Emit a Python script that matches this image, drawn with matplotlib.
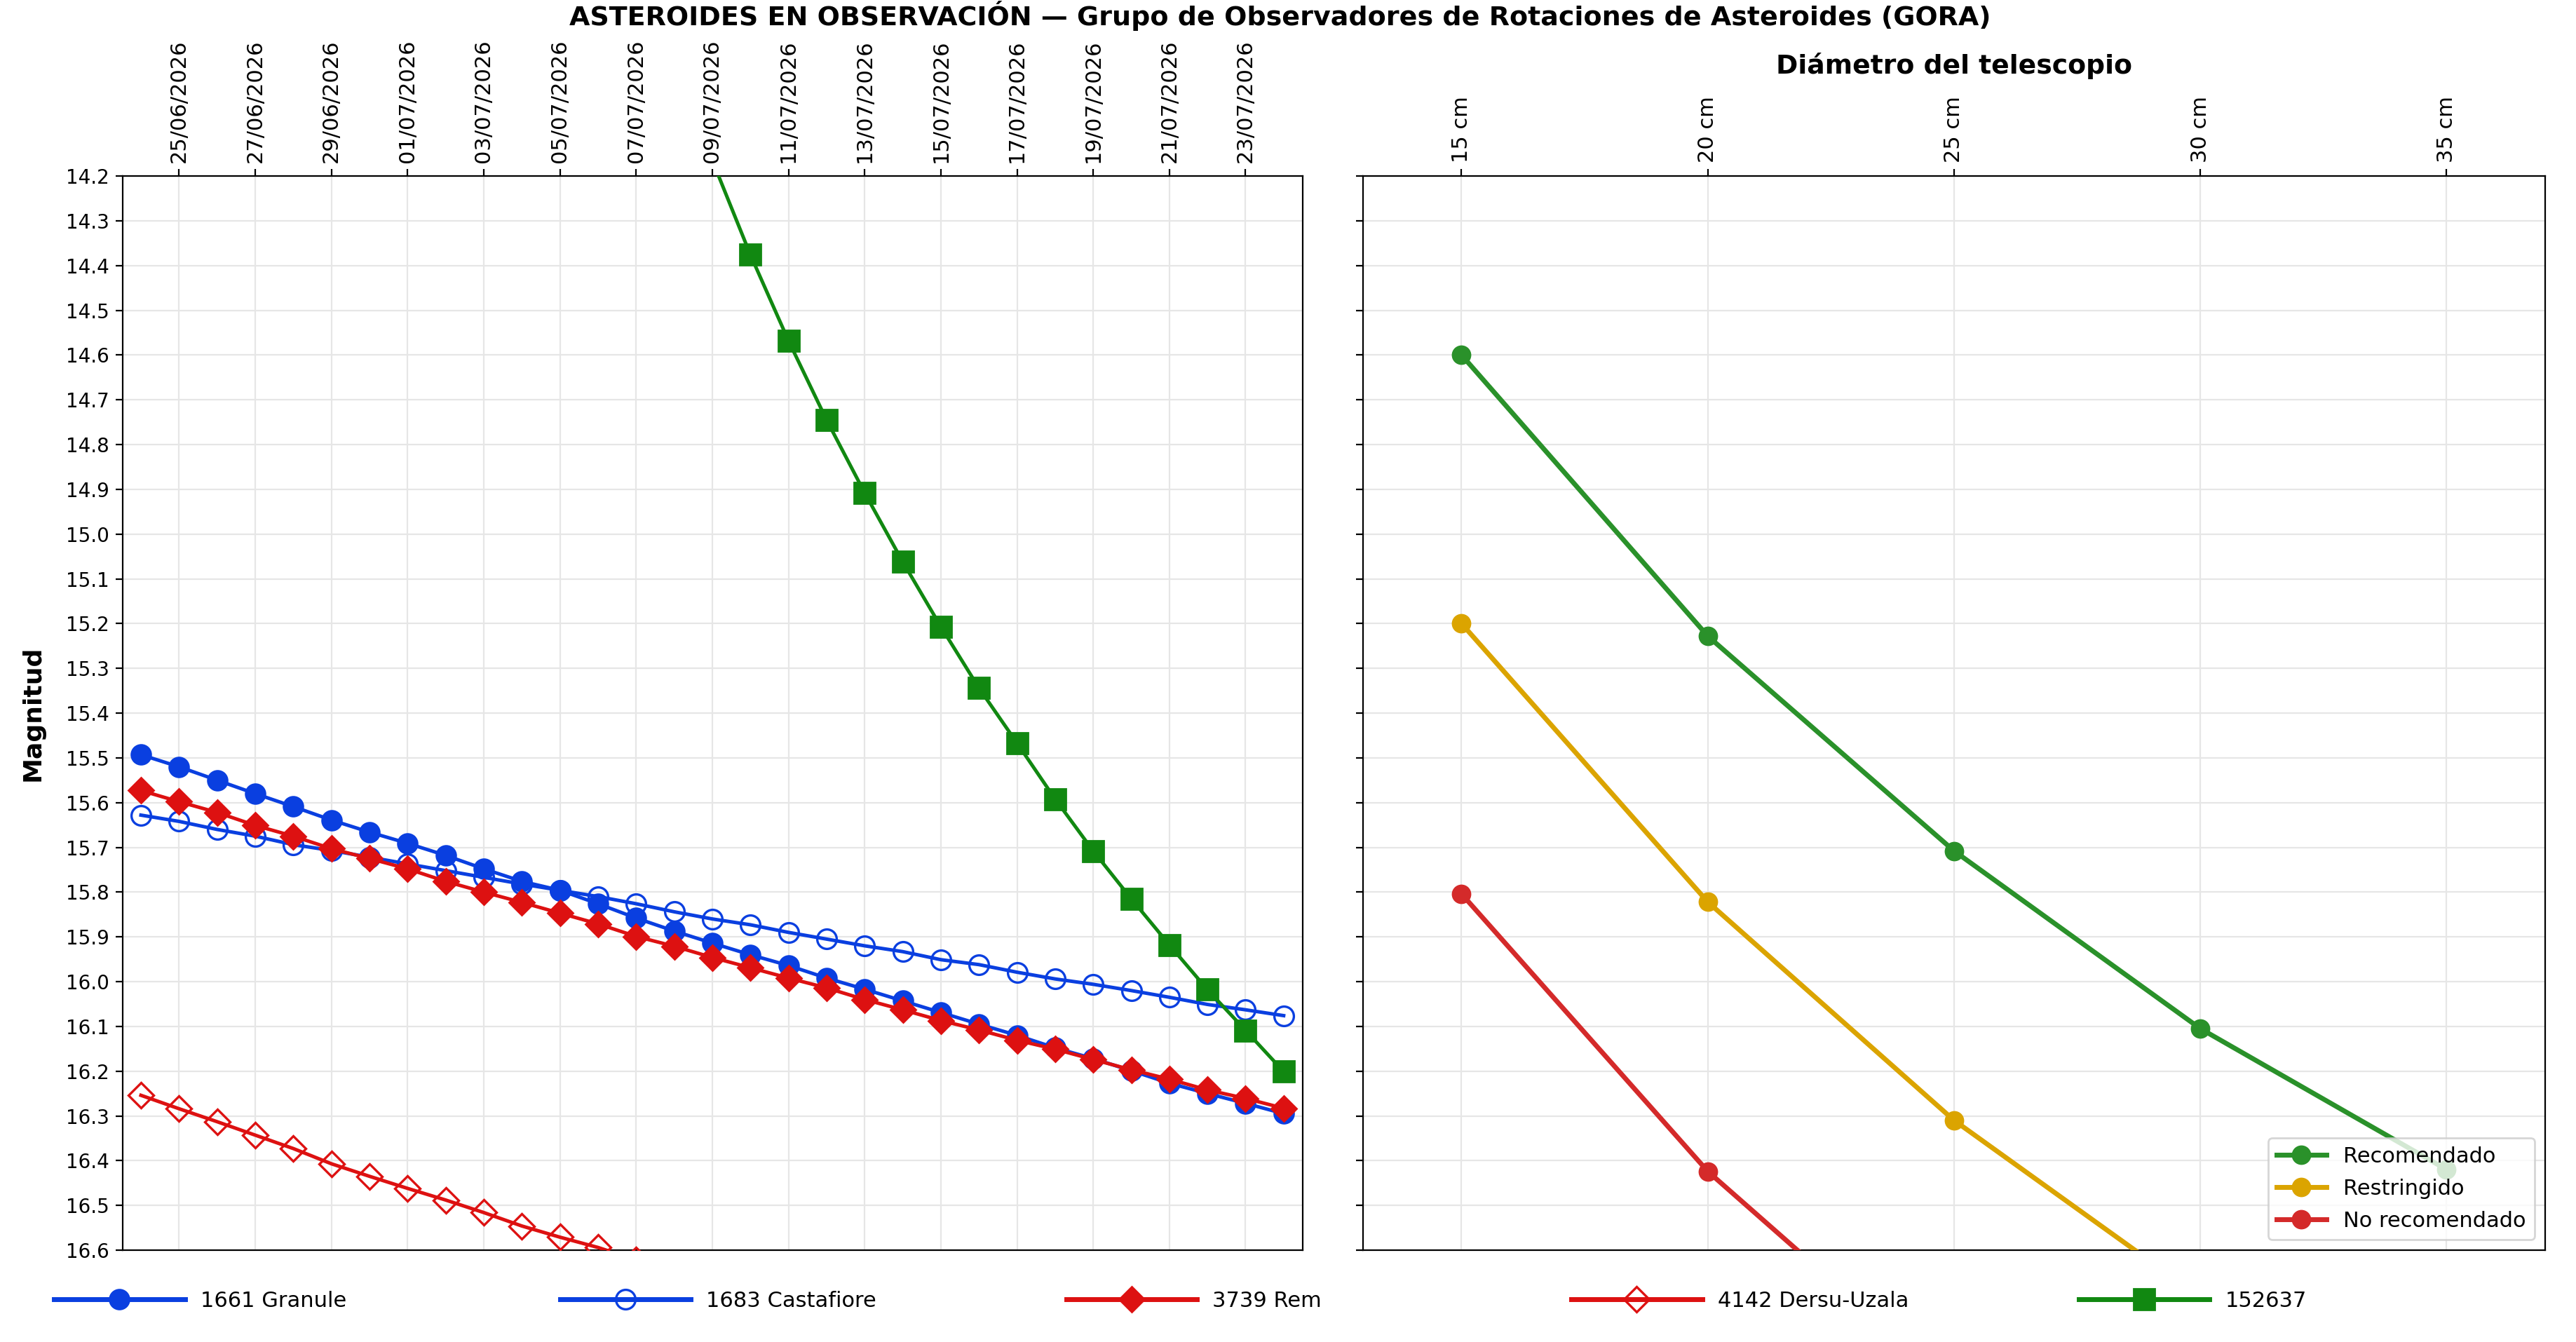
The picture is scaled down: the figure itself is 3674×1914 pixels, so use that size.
import numpy as np
import pandas as pd
import matplotlib
matplotlib.use("Agg")
import matplotlib.pyplot as plt
import matplotlib.dates as mdates
from matplotlib.lines import Line2D

# ---------------- data ----------------
dates = pd.date_range("2026-06-24", "2026-07-24", freq="D")

granule = [15.493, 15.520, 15.550, 15.580, 15.609, 15.639, 15.666, 15.691, 15.718, 15.748,
           15.776, 15.796, 15.826, 15.858, 15.887, 15.914, 15.940, 15.964, 15.992, 16.017,
           16.043, 16.069, 16.095, 16.120, 16.148, 16.172, 16.199, 16.227, 16.250, 16.272, 16.295]
castafiore = [15.628, 15.642, 15.660, 15.675, 15.694, 15.707, 15.722, 15.737, 15.752, 15.767,
              15.782, 15.796, 15.810, 15.826, 15.844, 15.860, 15.873, 15.890, 15.905, 15.920,
              15.933, 15.951, 15.962, 15.979, 15.994, 16.006, 16.020, 16.035, 16.051, 16.063, 16.076]
rem = [15.573, 15.598, 15.622, 15.651, 15.675, 15.703, 15.725, 15.748, 15.776, 15.800,
       15.823, 15.847, 15.871, 15.899, 15.921, 15.946, 15.969, 15.992, 16.014, 16.040,
       16.063, 16.087, 16.108, 16.131, 16.151, 16.174, 16.197, 16.218, 16.242, 16.261, 16.283]
dersu = [16.254, 16.284, 16.313, 16.343, 16.373, 16.407, 16.435, 16.462, 16.488, 16.516,
         16.546, 16.571, 16.594, 16.622, 16.649, 16.676, 16.702, 16.728, 16.754, 16.779,
         16.804, 16.828, 16.852, 16.876, 16.899, 16.922, 16.944, 16.966, 16.988, 17.009, 17.030]
ast152637 = [None] * 15 + [14.165, 14.376, 14.568, 14.745, 14.908, 15.062, 15.207, 15.344,
                           15.467, 15.592, 15.708, 15.815, 15.918, 16.018, 16.109, 16.201]

diam_cm = [15, 20, 25, 30, 35]
diam_labels = ["15 cm", "20 cm", "25 cm", "30 cm", "35 cm"]
recomendado = [14.600, 15.228, 15.708, 16.105, 16.420]
restringido = [15.200, 15.822, 16.310, 16.705, 17.020]
no_recomendado = [15.804, 16.424, 16.908, 17.305, 17.620]

title = "ASTEROIDES EN OBSERVACIÓN — Grupo de Observadores de Rotaciones de Asteroides (GORA)"

# ---------------- figure ----------------
fig = plt.figure(figsize=(18.37, 9.57), dpi=200)
ax1 = fig.add_axes([0.04763, 0.06844, 0.45808, 0.80042])
ax2 = fig.add_axes([0.52912, 0.06844, 0.45890, 0.80042])

BLUE = "#0a3fe0"
RED = "#dd1111"
GREEN = "#118811"

series = [
    ("1661 Granule", granule, dict(color=BLUE, marker="o", ms=10, mfc=BLUE)),
    ("1683 Castafiore", castafiore, dict(color=BLUE, marker="o", ms=10, mfc="none", mew=1.2)),
    ("3739 Rem", rem, dict(color=RED, marker="D", ms=9, mfc=RED)),
    ("4142 Dersu-Uzala", dersu, dict(color=RED, marker="D", ms=9, mfc="none", mew=1.2)),
    ("152637", ast152637, dict(color=GREEN, marker="s", ms=11, mfc=GREEN)),
]

for name, vals, st in series:
    y = np.array([np.nan if v is None else v for v in vals], dtype=float)
    ax1.plot(dates, y, lw=1.8, zorder=3, **st)

yt = np.round(np.arange(14.2, 16.61, 0.1), 1)
for ax in (ax1, ax2):
    ax.set_ylim(16.6, 14.2)
    ax.set_yticks(yt)
    ax.grid(True, color="#e6e6e6", lw=0.8, zorder=0)
    ax.set_axisbelow(True)
    ax.xaxis.tick_top()
    ax.tick_params(axis="x", labelrotation=90, labelsize=11, bottom=False, top=True)
ax1.set_yticklabels([f"{v:.1f}" for v in yt])
ax1.tick_params(axis="y", labelsize=10)
ax2.tick_params(axis="y", labelleft=False)

ax1.set_xlim(dates[0] - pd.Timedelta(hours=11.5), dates[-1] + pd.Timedelta(hours=12))
ax1.xaxis.set_major_locator(mdates.DayLocator(bymonthday=range(1, 32, 2)))
ax1.xaxis.set_major_formatter(mdates.DateFormatter("%d/%m/%Y"))
ax1.set_ylabel("Magnitud", fontsize=13, fontweight="bold")
ax1.yaxis.set_label_coords(-0.066, 0.5)

# right panel
R_GREEN = "#2a912a"
R_GOLD = "#dba400"
R_RED = "#d42a2a"
for name, vals, c in [("Recomendado", recomendado, R_GREEN),
                      ("Restringido", restringido, R_GOLD),
                      ("No recomendado", no_recomendado, R_RED)]:
    ax2.plot(diam_cm, vals, color=c, lw=2.5, marker="o", ms=9, label=name, zorder=3)
ax2.set_xlim(13, 37)
ax2.set_xticks(diam_cm)
ax2.set_xticklabels(diam_labels)
ax2.legend(loc="lower right", fontsize=11, handlelength=2.3, labelspacing=0.55)

fig.text(0.497, 0.988, title, ha="center", va="center", fontsize=13.7, fontweight="bold")
fig.text(0.7586, 0.951, "Diámetro del telescopio", ha="center", va="center",
         fontsize=13.6, fontweight="bold")

# bottom legend (one entry per slot)
xs = [0.021, 0.2175, 0.414, 0.610, 0.807]
for (name, vals, st), x in zip(series, xs):
    h = Line2D([], [], lw=2.5, **st)
    fig.legend(handles=[h], labels=[name], loc="center left", bbox_to_anchor=(x, 0.0308),
               frameon=False, fontsize=11, handlelength=6.1, handletextpad=0.72,
               borderpad=0, borderaxespad=0)

fig.savefig("out.png", dpi=200)
